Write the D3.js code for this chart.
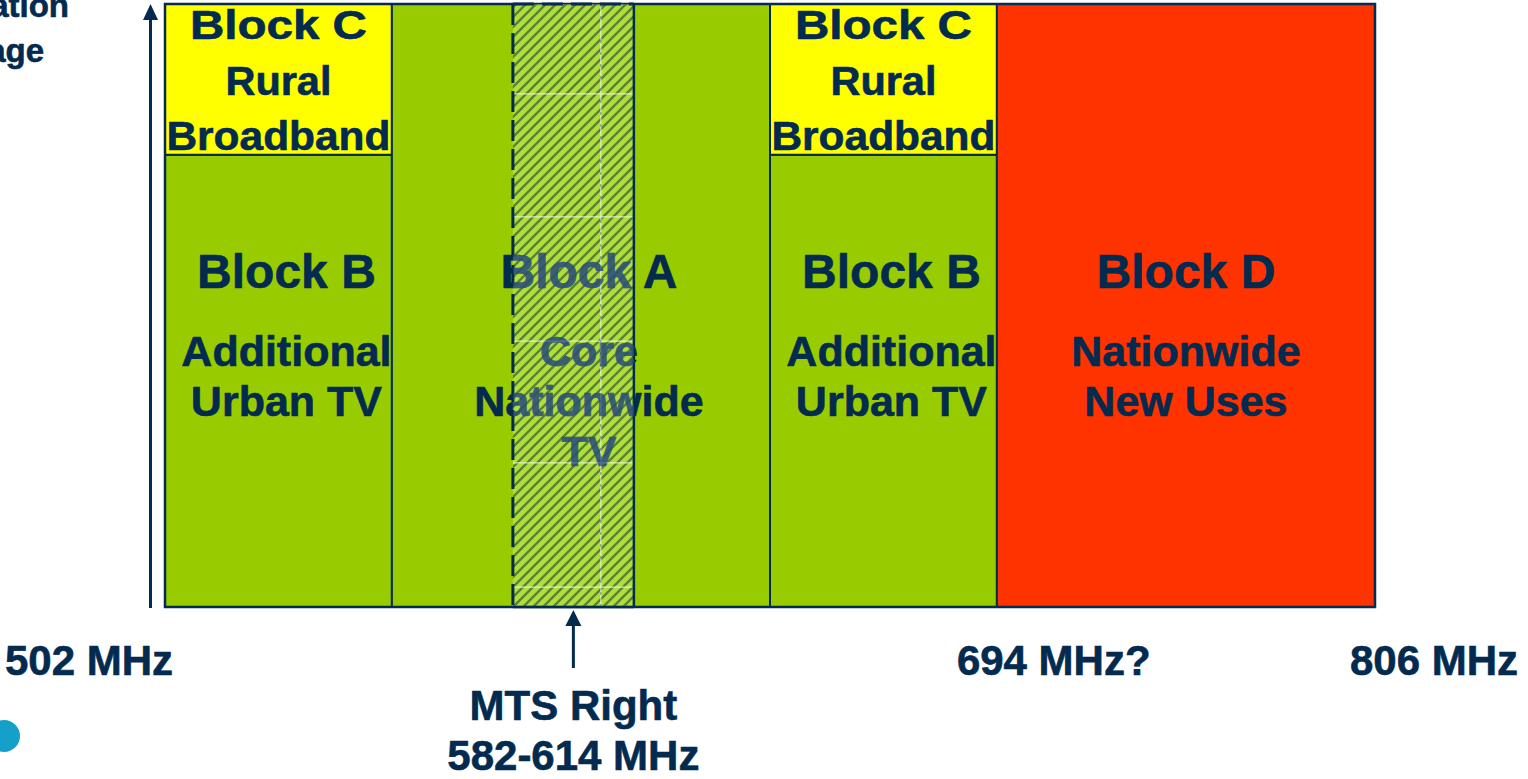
<!DOCTYPE html>
<html>
<head>
<meta charset="utf-8">
<script src="https://cdn.jsdelivr.net/npm/d3@7"></script>
<style>
  html, body { margin: 0; padding: 0; background: #ffffff; overflow: hidden; }
  svg { display: block; }
  text { font-family: "Liberation Sans", Arial, Helvetica, sans-serif; font-weight: bold; }
</style>
</head>
<body>
<svg id="chart" width="1528" height="779"></svg>
<script>
// ---------------- data ----------------
const blockIds      = ["B", "C", "A", "B", "C", "D"];
const blockTitles   = ["Block B", "Block C", "Block A", "Block B", "Block C", "Block D"];
const blockUses     = [["Additional", "Urban TV"], ["Rural", "Broadband"], ["Core", "Nationwide", "TV"],
                       ["Additional", "Urban TV"], ["Rural", "Broadband"], ["Nationwide", "New Uses"]];
const spectrumStart = [0, 0, 3, 8, 8, 11];      // schematic spectrum units (not to MHz scale)
const spectrumEnd   = [3, 3, 8, 11, 11, 16];
const coverageFrom  = [0, 75, 0, 0, 75, 0];     // population coverage %
const coverageTo    = [75, 100, 100, 75, 100, 100];
const mtsRange      = [4.6, 6.2];
const mtsLabel      = ["MTS Right", "582-614 MHz"];
const freqTickPos   = [0, 11, 16];
const freqTickLabels = ["502 MHz", "694 MHz?", "806 MHz"];
const axisTitle     = ["Population", "Coverage"];

// ---------------- styles ----------------
const NAVY = "#032a4f";
const fillFor = { A: "#99cc00", B: "#99cc00", C: "#ffff00", D: "#ff3300" };

const svg = d3.select("#chart");
const x = d3.scaleLinear().domain([0, 16]).range([165, 1375]);
const y = d3.scaleLinear().domain([0, 100]).range([607, 4]);

const blocks = blockIds.map((id, i) => ({
  id, title: blockTitles[i], uses: blockUses[i],
  x0: spectrumStart[i], x1: spectrumEnd[i], y0: coverageFrom[i], y1: coverageTo[i]
}));

function heavy(sel, colour) {
  return sel.attr("fill", colour).attr("stroke", colour).attr("stroke-width", 0.6)
    .attr("stroke-linejoin", "round");
}

// defs: hatch pattern + clip
const defs = svg.append("defs");
const pat = defs.append("pattern").attr("id", "hatch")
  .attr("patternUnits", "userSpaceOnUse").attr("width", 10).attr("height", 10);
pat.append("rect").attr("width", 10).attr("height", 10).attr("fill", "rgba(205,238,120,0.5)");
pat.append("path").attr("d", "M-2.5,2.5 L2.5,-2.5 M0,10 L10,0 M7.5,12.5 L12.5,7.5")
  .attr("stroke", "rgba(50,100,40,0.72)").attr("stroke-width", 2.4);

defs.append("clipPath").attr("id", "mtsClip").append("rect")
  .attr("x", x(mtsRange[0])).attr("y", y(100))
  .attr("width", x(mtsRange[1]) - x(mtsRange[0])).attr("height", y(0) - y(100));

// blocks
svg.append("g").selectAll("rect").data(blocks).join("rect")
  .attr("x", d => x(d.x0)).attr("y", d => y(d.y1))
  .attr("width", d => x(d.x1) - x(d.x0)).attr("height", d => y(d.y0) - y(d.y1))
  .attr("fill", d => fillFor[d.id]).attr("stroke", NAVY).attr("stroke-width", 2);

// outer frame
svg.append("rect").attr("x", x(0)).attr("y", y(100))
  .attr("width", x(16) - x(0)).attr("height", y(0) - y(100))
  .attr("fill", "none").attr("stroke", NAVY).attr("stroke-width", 2.5);

// block labels
const fitWidth = { "Block C": 177, "Rural": 106, "Broadband": 224 };
const nudge = { A: 8, B: 8, C: 0, D: 0 };

function drawLabels(g, colour) {
  blocks.forEach(d => {
    const cx = (x(d.x0) + x(d.x1)) / 2 + nudge[d.id];
    if (d.id === "C") {
      const lines = [d.title].concat(d.uses);
      const base = [39, 95, 150];
      lines.forEach((t, k) => {
        heavy(g.append("text").attr("x", cx).attr("y", base[k]).attr("text-anchor", "middle")
          .attr("font-size", 40)
          .attr("textLength", fitWidth[t]).attr("lengthAdjust", "spacingAndGlyphs").text(t), colour);
      });
    } else {
      heavy(g.append("text").attr("x", cx).attr("y", 288).attr("text-anchor", "middle")
        .attr("font-size", 48).text(d.title), colour);
      d.uses.forEach((t, k) => {
        heavy(g.append("text").attr("x", cx).attr("y", 366 + k * 50).attr("text-anchor", "middle")
          .attr("font-size", 43).text(t), colour);
      });
    }
  });
}
drawLabels(svg.append("g"), NAVY);

// MTS hatched overlay
const mx0 = x(mtsRange[0]), mx1 = x(mtsRange[1]);
const mts = svg.append("g");
mts.append("rect").attr("x", mx0).attr("y", y(100)).attr("width", mx1 - mx0).attr("height", y(0) - y(100))
  .attr("fill", "url(#hatch)");
// faint grid inside
const gridFracY = [0.149, 0.353, 0.559, 0.761, 0.967];
const gridFracX = [0.727];
gridFracY.forEach(f => {
  const yy = y(100) + f * (y(0) - y(100));
  mts.append("line").attr("x1", mx0).attr("x2", mx1).attr("y1", yy).attr("y2", yy)
    .attr("stroke", "rgba(235,245,210,0.85)").attr("stroke-width", 1.2);
});
gridFracX.forEach(f => {
  const xx = mx0 + f * (mx1 - mx0);
  mts.append("line").attr("x1", xx).attr("x2", xx).attr("y1", y(100)).attr("y2", y(0))
    .attr("stroke", "rgba(235,245,210,0.85)").attr("stroke-width", 1.2);
  mts.append("line").attr("x1", xx).attr("x2", xx).attr("y1", y(100)).attr("y2", y(0))
    .attr("stroke", NAVY).attr("stroke-width", 0.8).attr("stroke-dasharray", "3,9").attr("opacity", 0.6);
});
// text seen through the hatch
drawLabels(svg.append("g").attr("clip-path", "url(#mtsClip)").attr("opacity", 0.72), "#2a4d80");

// MTS borders
mts.append("line").attr("x1", mx0).attr("x2", mx0).attr("y1", y(100)).attr("y2", y(0))
  .attr("stroke", NAVY).attr("stroke-width", 3).attr("stroke-dasharray", "21,8");
mts.append("line").attr("x1", mx0).attr("x2", mx1).attr("y1", y(100)).attr("y2", y(100))
  .attr("stroke", NAVY).attr("stroke-width", 3).attr("stroke-dasharray", "21,8");
mts.append("line").attr("x1", mx1).attr("x2", mx1).attr("y1", y(100)).attr("y2", y(0))
  .attr("stroke", NAVY).attr("stroke-width", 2.5);
mts.append("line").attr("x1", mx0).attr("x2", mx1).attr("y1", y(0)).attr("y2", y(0))
  .attr("stroke", NAVY).attr("stroke-width", 2.5);

// y-axis arrow
const ax = 150.5;
svg.append("line").attr("x1", ax).attr("x2", ax).attr("y1", y(0) + 1).attr("y2", 18)
  .attr("stroke", NAVY).attr("stroke-width", 3);
svg.append("path").attr("d", `M${ax},4 L${ax - 7.5},20 L${ax + 7.5},20 Z`).attr("fill", NAVY);

// axis title (partly off canvas, as in the source slide)
heavy(svg.append("text").attr("x", 69).attr("y", 17).attr("text-anchor", "end")
  .attr("font-size", 33).text(axisTitle[0]), NAVY);
heavy(svg.append("text").attr("x", 44).attr("y", 62).attr("text-anchor", "end")
  .attr("font-size", 33).text(axisTitle[1]), NAVY);

// frequency labels
const freqAnchor = ["end", "start", "start"];
const freqDx = [8, -40, -25];
svg.append("g").selectAll("text").data(freqTickLabels).join("text")
  .attr("x", (d, i) => x(freqTickPos[i]) + freqDx[i]).attr("y", 675)
  .attr("text-anchor", (d, i) => freqAnchor[i])
  .attr("font-size", 42).attr("fill", NAVY).attr("stroke", NAVY).attr("stroke-width", 0.6)
  .text(d => d);

// MTS pointer arrow + label
const mcx = x((mtsRange[0] + mtsRange[1]) / 2);
svg.append("line").attr("x1", mcx).attr("x2", mcx).attr("y1", 668).attr("y2", 622)
  .attr("stroke", NAVY).attr("stroke-width", 3);
svg.append("path").attr("d", `M${mcx},610 L${mcx - 8},626 L${mcx + 8},626 Z`).attr("fill", NAVY);
mtsLabel.forEach((t, k) => {
  heavy(svg.append("text").attr("x", mcx).attr("y", 720 + k * 50).attr("text-anchor", "middle")
    .attr("font-size", 42).text(t), NAVY);
});

// partial logo dot
svg.append("circle").attr("cx", 4).attr("cy", 736).attr("r", 16).attr("fill", "#14a0c8");
</script>
</body>
</html>
